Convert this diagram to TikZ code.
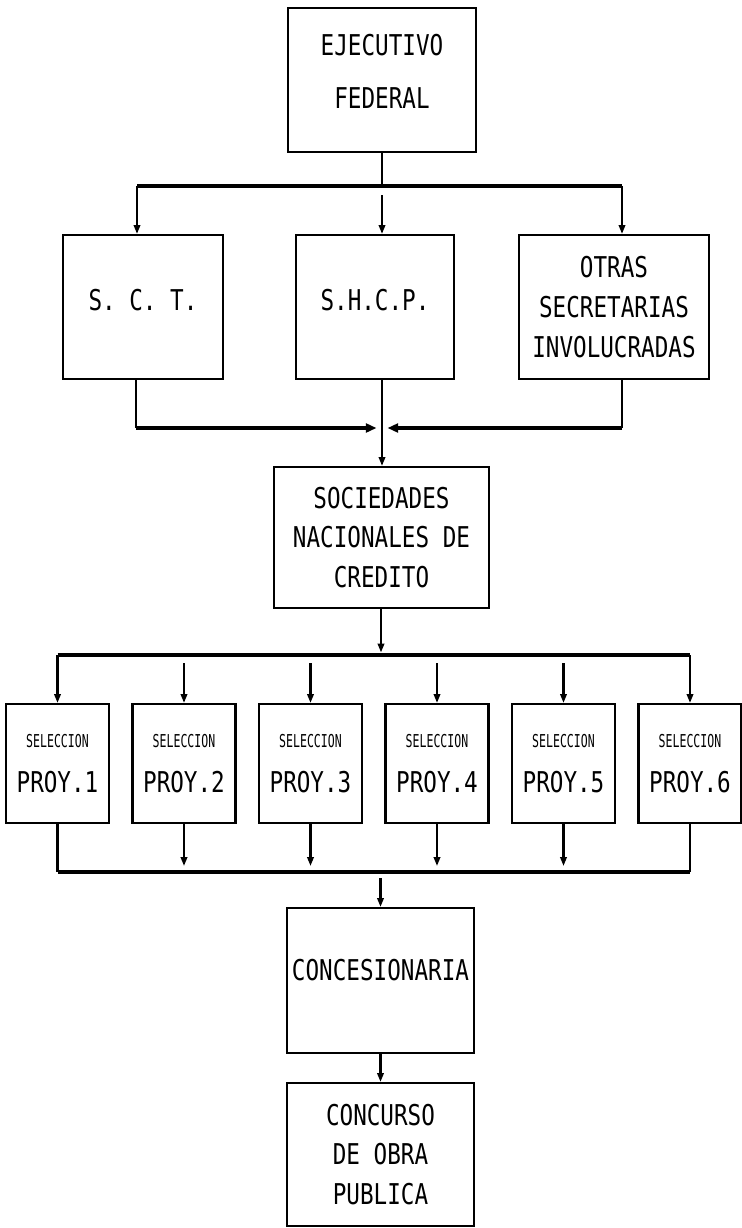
\documentclass[tikz,border=0pt]{standalone}
\usepackage{fontspec}
\newfontfamily\plotfont[FakeStretch=0.79]{DejaVu Sans Mono}
\newfontfamily\plotsmall[FakeStretch=0.65]{DejaVu Sans Mono}
\usetikzlibrary{arrows.meta, calc}

\begin{document}
\begin{tikzpicture}[
    entity/.style = {rectangle, draw=black, line width=1.2pt, align=center, inner sep=0pt, font=\plotfont\fontsize{16.3}{22.7}\selectfont},
    proj/.style = {entity, minimum width=2.06cm, minimum height=2.38cm, font=\plotfont\fontsize{16.3}{25.5}\selectfont},
    bus/.style = {draw=black, line width=2.6pt},
    link/.style = {draw=black, line width=1.2pt},
    msg/.style = {draw=black, line width=1.2pt, -{Triangle[length=5pt,width=3.6pt]}},
    busmsg/.style = {bus, -{Triangle[length=6pt,width=5pt]}}
]
\useasboundingbox (0,0) rectangle (14.84,-24.56);

% Entities
\node (ejec) [entity, minimum width=3.76cm, minimum height=2.88cm, text depth=0.34cm] at (7.64, -1.60) {EJECUTIVO\\[0.26cm]FEDERAL};
\node (sct) [entity, minimum width=3.20cm, minimum height=2.88cm, text depth=0.3cm] at (2.86, -6.14) {S. C. T.};
\node (shcp) [entity, minimum width=3.16cm, minimum height=2.88cm, text depth=0.3cm] at (7.50, -6.14) {S.H.C.P.};
\node (otras) [entity, minimum width=3.80cm, minimum height=2.88cm] at (12.28, -6.14) {OTRAS\\SECRETARIAS\\INVOLUCRADAS};
\node (snc) [entity, minimum width=4.30cm, minimum height=2.82cm] at (7.63, -10.75) {SOCIEDADES\\NACIONALES DE\\CREDITO};
\foreach \i in {1,...,6}
    \node (p\i) [proj] at ({1.15+(\i-1)*2.53}, -15.27) {{\plotsmall\fontsize{10.1}{25.5}\selectfont SELECCION}\\PROY.\i};
\node (conc) [entity, minimum width=3.74cm, minimum height=2.90cm, text depth=0.42cm] at (7.61, -19.61) {CONCESIONARIA};
\node (concurso) [entity, minimum width=3.74cm, minimum height=2.86cm] at (7.61, -23.09) {CONCURSO\\DE OBRA\\PUBLICA};

% Bus points
\coordinate (tl) at (2.74, -3.72);
\coordinate (tr) at (12.44, -3.72);
\coordinate (tm) at (7.64, -3.72);
\coordinate (ml) at (2.72, -8.56);
\coordinate (mr) at (12.44, -8.56);
\coordinate (mm) at (7.64, -8.56);
\coordinate (pm) at (7.62, -13.10);
\coordinate (qm) at (7.61, -17.44);

% Ejecutivo to secretarias
\draw [link] (ejec) -- (tm);
\draw [bus] (tl) -- (tr);
\draw [msg] (tl) -- (tl |- sct.north);
\draw [msg] (tr) -- (tr |- otras.north);
\draw [msg] ($(tm)+(0,-0.18)$) -- (tm |- shcp.north);

% Secretarias to sociedades
\draw [link] (ml |- sct.south) -- (ml);
\draw [link] (mr |- otras.south) -- (mr);
\draw [busmsg] (ml) -- ($(mm)+(-0.11,0)$);
\draw [busmsg] (mr) -- ($(mm)+(0.11,0)$);
\draw [msg] (tm |- shcp.south) -- (tm |- snc.north);

% Sociedades to proyectos
\draw [msg] (snc.south -| pm) -- ($(pm)+(0,0.05)$);
\draw [bus] (p1.north |- pm) -- (p6.north |- pm);
\draw [msg] (p1.north |- pm) -- (p1.north);
\draw [msg] (p6.north |- pm) -- (p6.north);
\foreach \i in {2,...,5}
    \draw [msg] ($(p\i.north |- pm)+(0,-0.16)$) -- (p\i.north);

% Proyectos to concesionaria
\draw [link] (p1.south) -- (p1.south |- qm);
\draw [link] (p6.south) -- (p6.south |- qm);
\draw [bus] (p1.south |- qm) -- (p6.south |- qm);
\foreach \i in {2,...,5}
    \draw [msg] (p\i.south) -- ($(p\i.south |- qm)+(0,0.12)$);
\draw [msg] ($(qm)+(0,-0.12)$) -- (qm |- conc.north);
\draw [msg] (conc) -- (concurso);

\end{tikzpicture}
\end{document}
